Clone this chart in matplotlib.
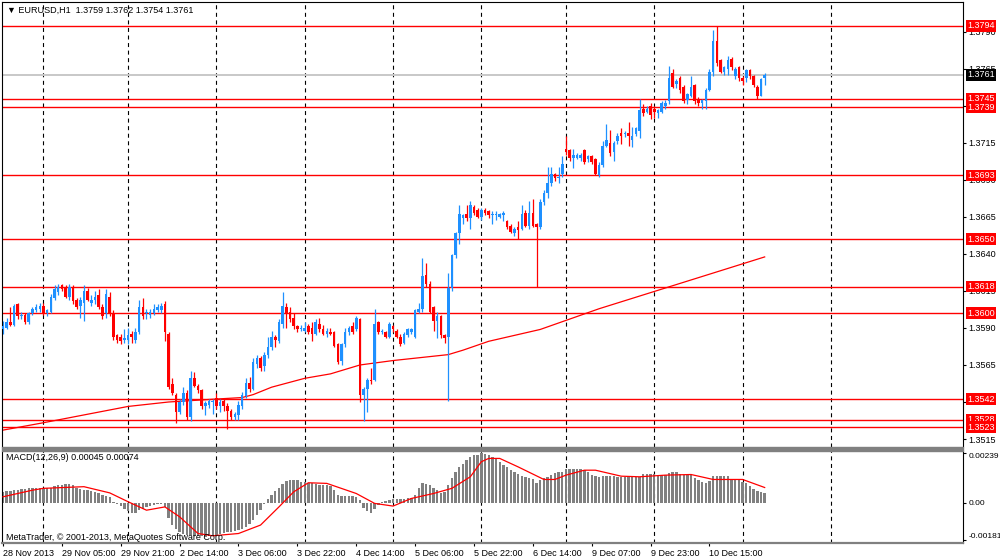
import matplotlib.pyplot as plt
import matplotlib.transforms as mtransforms
from matplotlib.patches import Rectangle
import numpy as np

plt.rcParams['font.family'] = ['Liberation Sans', 'DejaVu Sans']
plt.rcParams['font.size'] = 6.5

# EURUSD H1 candles, bar 0 = 28 Nov 2013 13:00
opens = [1.3589, 1.3590, 1.3594, 1.3592, 1.3606, 1.3598, 1.3599, 1.3594, 1.3600, 1.3602,
         1.3603, 1.3605, 1.3600, 1.3601, 1.3610, 1.3614, 1.3619, 1.3618, 1.3611, 1.3618,
         1.3609, 1.3605, 1.3607, 1.3615, 1.3607, 1.3609, 1.3612, 1.3604, 1.3600, 1.3611,
         1.3600, 1.3585, 1.3584, 1.3582, 1.3582, 1.3586, 1.3582, 1.3587, 1.3604, 1.3600,
         1.3599, 1.3600, 1.3602, 1.3602, 1.3606, 1.3586, 1.3552, 1.3545, 1.3533, 1.3540,
         1.3546, 1.3530, 1.3556, 1.3551, 1.3548, 1.3537, 1.3538, 1.3540, 1.3543, 1.3537,
         1.3541, 1.3537, 1.3534, 1.3530, 1.3531, 1.3537, 1.3544, 1.3553, 1.3549, 1.3566,
         1.3570, 1.3564, 1.3572, 1.3577, 1.3584, 1.3581, 1.3593, 1.3604, 1.3601, 1.3597,
         1.3591, 1.3589, 1.3588, 1.3591, 1.3590, 1.3586, 1.3593, 1.3589, 1.3586, 1.3587,
         1.3587, 1.3579, 1.3568, 1.3579, 1.3587, 1.3591, 1.3589, 1.3596, 1.3545, 1.3549,
         1.3555, 1.3555, 1.3594, 1.3587, 1.3587, 1.3584, 1.3591, 1.3588, 1.3584, 1.3580,
         1.3585, 1.3587, 1.3584, 1.3601, 1.3603, 1.3626, 1.3620, 1.3604, 1.3595, 1.3598,
         1.3585, 1.3584, 1.3617, 1.3639, 1.3654, 1.3664, 1.3667, 1.3664, 1.3672, 1.3670,
         1.3665, 1.3670, 1.3669, 1.3666, 1.3666, 1.3665, 1.3666, 1.3662, 1.3659, 1.3654,
         1.3658, 1.3657, 1.3668, 1.3659, 1.3668, 1.3660, 1.3658, 1.3675, 1.3681, 1.3688,
         1.3694, 1.3691, 1.3694, 1.3711, 1.3710, 1.3705, 1.3705, 1.3705, 1.3710, 1.3704,
         1.3706, 1.3704, 1.3693, 1.3700, 1.3713, 1.3715, 1.3709, 1.3716, 1.3722, 1.3721,
         1.3722, 1.3717, 1.3721, 1.3723, 1.3738, 1.3736, 1.3740, 1.3738, 1.3735, 1.3736,
         1.3740, 1.3743, 1.3762, 1.3755, 1.3759, 1.3753, 1.3744, 1.3747, 1.3754, 1.3745,
         1.3742, 1.3743, 1.3751, 1.3763, 1.3784, 1.3771, 1.3763, 1.3765, 1.3772, 1.3760,
         1.3766, 1.3759, 1.3759, 1.3764, 1.3760, 1.3753, 1.3747, 1.3759]
highs = [1.3595, 1.3597, 1.3604, 1.3606, 1.3607, 1.3601, 1.3600, 1.3601, 1.3604, 1.3606,
         1.3607, 1.3607, 1.3603, 1.3613, 1.3619, 1.3620, 1.3620, 1.3619, 1.3620, 1.3619,
         1.3610, 1.3611, 1.3619, 1.3617, 1.3612, 1.3615, 1.3616, 1.3606, 1.3616, 1.3614,
         1.3602, 1.3586, 1.3586, 1.3589, 1.3590, 1.3588, 1.3590, 1.3609, 1.3610, 1.3603,
         1.3603, 1.3606, 1.3606, 1.3607, 1.3608, 1.3587, 1.3556, 1.3546, 1.3542, 1.3550,
         1.3548, 1.3561, 1.3560, 1.3552, 1.3549, 1.3541, 1.3542, 1.3542, 1.3546, 1.3542,
         1.3543, 1.3539, 1.3535, 1.3533, 1.3541, 1.3547, 1.3556, 1.3557, 1.3570, 1.3572,
         1.3571, 1.3574, 1.3584, 1.3588, 1.3585, 1.3596, 1.3614, 1.3607, 1.3604, 1.3600,
         1.3592, 1.3592, 1.3594, 1.3593, 1.3594, 1.3596, 1.3597, 1.3592, 1.3590, 1.3590,
         1.3588, 1.3580, 1.3580, 1.3590, 1.3591, 1.3594, 1.3598, 1.3597, 1.3550, 1.3556,
         1.3563, 1.3603, 1.3595, 1.3589, 1.3588, 1.3594, 1.3592, 1.3589, 1.3586, 1.3587,
         1.3590, 1.3590, 1.3603, 1.3607, 1.3637, 1.3634, 1.3622, 1.3605, 1.3601, 1.3599,
         1.3586, 1.3627, 1.3640, 1.3655, 1.3673, 1.3667, 1.3673, 1.3676, 1.3673, 1.3671,
         1.3671, 1.3671, 1.3670, 1.3669, 1.3669, 1.3668, 1.3669, 1.3663, 1.3660, 1.3658,
         1.3662, 1.3673, 1.3670, 1.3676, 1.3677, 1.3661, 1.3677, 1.3683, 1.3699, 1.3699,
         1.3695, 1.3699, 1.3706, 1.3720, 1.3711, 1.3711, 1.3708, 1.3708, 1.3711, 1.3707,
         1.3707, 1.3705, 1.3702, 1.3716, 1.3728, 1.3724, 1.3716, 1.3722, 1.3725, 1.3723,
         1.3729, 1.3726, 1.3726, 1.3745, 1.3741, 1.3740, 1.3742, 1.3740, 1.3738, 1.3743,
         1.3744, 1.3767, 1.3765, 1.3758, 1.3760, 1.3754, 1.3749, 1.3760, 1.3755, 1.3746,
         1.3745, 1.3752, 1.3765, 1.3791, 1.3794, 1.3772, 1.3767, 1.3774, 1.3773, 1.3766,
         1.3767, 1.3760, 1.3765, 1.3765, 1.3761, 1.3754, 1.3759, 1.3762]
lows = [1.3586, 1.3589, 1.3591, 1.3591, 1.3596, 1.3596, 1.3593, 1.3593, 1.3599, 1.3601,
        1.3601, 1.3599, 1.3598, 1.3600, 1.3609, 1.3612, 1.3615, 1.3610, 1.3609, 1.3606,
        1.3603, 1.3597, 1.3595, 1.3608, 1.3605, 1.3606, 1.3603, 1.3596, 1.3597, 1.3598,
        1.3582, 1.3580, 1.3579, 1.3580, 1.3579, 1.3580, 1.3580, 1.3586, 1.3596, 1.3596,
        1.3597, 1.3599, 1.3601, 1.3600, 1.3581, 1.3549, 1.3545, 1.3526, 1.3532, 1.3538,
        1.3528, 1.3527, 1.3550, 1.3546, 1.3535, 1.3531, 1.3536, 1.3532, 1.3535, 1.3533,
        1.3534, 1.3522, 1.3528, 1.3528, 1.3528, 1.3535, 1.3543, 1.3547, 1.3548, 1.3563,
        1.3561, 1.3561, 1.3570, 1.3575, 1.3577, 1.3580, 1.3590, 1.3590, 1.3594, 1.3589,
        1.3587, 1.3588, 1.3587, 1.3586, 1.3581, 1.3585, 1.3587, 1.3585, 1.3584, 1.3585,
        1.3577, 1.3566, 1.3565, 1.3577, 1.3585, 1.3586, 1.3588, 1.3540, 1.3527, 1.3533,
        1.3552, 1.3554, 1.3586, 1.3586, 1.3583, 1.3583, 1.3587, 1.3583, 1.3578, 1.3579,
        1.3584, 1.3586, 1.3583, 1.3600, 1.3601, 1.3618, 1.3600, 1.3588, 1.3583, 1.3583,
        1.3580, 1.3541, 1.3615, 1.3637, 1.3647, 1.3660, 1.3662, 1.3657, 1.3666, 1.3664,
        1.3663, 1.3666, 1.3664, 1.3660, 1.3663, 1.3664, 1.3662, 1.3657, 1.3654, 1.3652,
        1.3650, 1.3656, 1.3658, 1.3657, 1.3658, 1.3618, 1.3657, 1.3673, 1.3678, 1.3686,
        1.3689, 1.3688, 1.3692, 1.3707, 1.3703, 1.3698, 1.3704, 1.3703, 1.3701, 1.3702,
        1.3701, 1.3693, 1.3692, 1.3699, 1.3712, 1.3706, 1.3703, 1.3714, 1.3714, 1.3719,
        1.3713, 1.3712, 1.3720, 1.3718, 1.3733, 1.3735, 1.3731, 1.3732, 1.3732, 1.3735,
        1.3738, 1.3741, 1.3752, 1.3752, 1.3749, 1.3742, 1.3741, 1.3746, 1.3741, 1.3740,
        1.3738, 1.3738, 1.3750, 1.3760, 1.3767, 1.3762, 1.3761, 1.3761, 1.3764, 1.3758,
        1.3757, 1.3754, 1.3756, 1.3758, 1.3753, 1.3745, 1.3747, 1.3754]
closes = [1.3591, 1.3594, 1.3592, 1.3605, 1.3598, 1.3599, 1.3594, 1.3600, 1.3603, 1.3604,
          1.3605, 1.3600, 1.3602, 1.3611, 1.3616, 1.3618, 1.3616, 1.3611, 1.3618, 1.3608,
          1.3604, 1.3609, 1.3615, 1.3609, 1.3609, 1.3611, 1.3604, 1.3598, 1.3613, 1.3600,
          1.3584, 1.3582, 1.3581, 1.3583, 1.3585, 1.3584, 1.3587, 1.3604, 1.3598, 1.3601,
          1.3601, 1.3603, 1.3604, 1.3605, 1.3587, 1.3550, 1.3546, 1.3533, 1.3540, 1.3546,
          1.3530, 1.3556, 1.3551, 1.3548, 1.3537, 1.3539, 1.3541, 1.3541, 1.3537, 1.3540,
          1.3537, 1.3534, 1.3530, 1.3532, 1.3538, 1.3545, 1.3553, 1.3549, 1.3567, 1.3570,
          1.3563, 1.3572, 1.3577, 1.3584, 1.3582, 1.3594, 1.3605, 1.3600, 1.3596, 1.3591,
          1.3589, 1.3590, 1.3590, 1.3587, 1.3586, 1.3594, 1.3589, 1.3586, 1.3588, 1.3586,
          1.3578, 1.3567, 1.3579, 1.3587, 1.3590, 1.3587, 1.3597, 1.3545, 1.3549, 1.3555,
          1.3554, 1.3593, 1.3587, 1.3588, 1.3584, 1.3593, 1.3589, 1.3584, 1.3579, 1.3586,
          1.3589, 1.3589, 1.3602, 1.3603, 1.3625, 1.3620, 1.3601, 1.3595, 1.3598, 1.3585,
          1.3583, 1.3617, 1.3639, 1.3654, 1.3667, 1.3666, 1.3664, 1.3673, 1.3668, 1.3665,
          1.3670, 1.3668, 1.3666, 1.3667, 1.3667, 1.3667, 1.3668, 1.3658, 1.3655, 1.3657,
          1.3656, 1.3667, 1.3659, 1.3668, 1.3659, 1.3658, 1.3675, 1.3681, 1.3688, 1.3694,
          1.3691, 1.3692, 1.3701, 1.3709, 1.3705, 1.3707, 1.3707, 1.3707, 1.3702, 1.3706,
          1.3702, 1.3694, 1.3700, 1.3713, 1.3717, 1.3708, 1.3715, 1.3720, 1.3720, 1.3722,
          1.3720, 1.3720, 1.3725, 1.3737, 1.3735, 1.3738, 1.3734, 1.3736, 1.3737, 1.3742,
          1.3742, 1.3759, 1.3753, 1.3757, 1.3751, 1.3743, 1.3748, 1.3753, 1.3743, 1.3742,
          1.3744, 1.3751, 1.3763, 1.3784, 1.3769, 1.3763, 1.3766, 1.3771, 1.3766, 1.3765,
          1.3759, 1.3757, 1.3764, 1.3760, 1.3754, 1.3747, 1.3758, 1.3761]

# 200 MA (read at a few bars)
ma_bars = [0, 11, 34, 45, 58, 65, 68, 73, 82, 89, 97, 106, 121, 125, 132, 146, 162, 189, 207]
ma_vals = [1.3521, 1.3526, 1.3537, 1.3540, 1.3542, 1.3543, 1.3545, 1.3550, 1.3556, 1.3559,
           1.3565, 1.3568, 1.3572, 1.3575, 1.3581, 1.3589, 1.3603, 1.3624, 1.3638]

# horizontal levels and current bid
levels = [1.3794, 1.3745, 1.3739, 1.3693, 1.3650, 1.3618, 1.3600, 1.3542, 1.3528, 1.3523]
bid = 1.3761
price_ticks = [1.3515, 1.3540, 1.3565, 1.3590, 1.3615, 1.3640, 1.3665, 1.3690, 1.3715,
               1.3740, 1.3765, 1.3790]

# MACD(12,26,9)
macd_hist = [0.00053, 0.00055, 0.00058, 0.00061, 0.00063, 0.00066, 0.00068, 0.00070, 0.00070, 0.00071,
             0.00072, 0.00073, 0.00072, 0.00074, 0.00080, 0.00085, 0.00088, 0.00090, 0.00089, 0.00085,
             0.00072, 0.00068, 0.00063, 0.00060, 0.00055, 0.00050, 0.00045, 0.00040, 0.00033, 0.00029,
             0.00005, -0.00005, -0.00018, -0.00030, -0.00042, -0.00050, -0.00048, -0.00035, -0.00028, -0.00022,
             -0.00018, -0.00012, -0.00008, -0.00006, -0.00020, -0.00075, -0.00110, -0.00128, -0.00142, -0.00150,
             -0.00155, -0.00157, -0.00160, -0.00162, -0.00163, -0.00165, -0.00163, -0.00160, -0.00155, -0.00150,
             -0.00145, -0.00143, -0.00140, -0.00135, -0.00132, -0.00128, -0.00118, -0.00102, -0.00085, -0.00060,
             -0.00036, -0.00005, 0.00020, 0.00038, 0.00055, 0.00072, 0.00090, 0.00105, 0.00110, 0.00112,
             0.00108, 0.00103, 0.00100, 0.00098, 0.00095, 0.00090, 0.00088, 0.00086, 0.00085, 0.00080,
             0.00060, 0.00040, 0.00035, 0.00033, 0.00033, 0.00035, 0.00030, 0.00013, -0.00027, -0.00040,
             -0.00048, -0.00030, -0.00012, 0.00002, 0.00010, 0.00015, 0.00018, 0.00020, 0.00020, 0.00020,
             0.00021, 0.00025, 0.00040, 0.00070, 0.00094, 0.00092, 0.00085, 0.00072, 0.00060, 0.00045,
             0.00050, 0.00085, 0.00120, 0.00150, 0.00172, 0.00190, 0.00208, 0.00223, 0.00230, 0.00234,
             0.00239, 0.00236, 0.00231, 0.00224, 0.00215, 0.00199, 0.00185, 0.00172, 0.00160, 0.00150,
             0.00138, 0.00132, 0.00127, 0.00122, 0.00113, 0.00097, 0.00110, 0.00118, 0.00127, 0.00134,
             0.00145, 0.00148, 0.00150, 0.00166, 0.00166, 0.00166, 0.00166, 0.00165, 0.00158, 0.00150,
             0.00134, 0.00130, 0.00126, 0.00128, 0.00129, 0.00129, 0.00128, 0.00126, 0.00126, 0.00126,
             0.00126, 0.00126, 0.00126, 0.00126, 0.00139, 0.00139, 0.00139, 0.00139, 0.00134, 0.00134,
             0.00134, 0.00142, 0.00147, 0.00147, 0.00140, 0.00134, 0.00134, 0.00134, 0.00122, 0.00110,
             0.00100, 0.00097, 0.00105, 0.00129, 0.00129, 0.00129, 0.00129, 0.00129, 0.00110, 0.00110,
             0.00110, 0.00100, 0.00094, 0.00080, 0.00065, 0.00055, 0.00050, 0.00045]
sig_bars = [0, 8, 11, 22, 29, 34, 39, 44, 48, 53, 57, 64, 70, 75, 79, 83, 88, 96, 101, 106,
            111, 117, 122, 127, 130, 132, 135, 140, 147, 150, 153, 158, 161, 168, 173, 180, 187,
            193, 201, 207]
sig_vals = [0.00029, 0.00061, 0.00070, 0.00078, 0.00048, 0.00005, -0.00036, -0.00020, -0.00068, -0.00149,
            -0.00160, -0.00149, -0.00108, -0.00020, 0.00053, 0.00097, 0.00094, 0.00045, -0.00003, -0.00016,
            0.00021, 0.00045, 0.00070, 0.00126, 0.00199, 0.00215, 0.00215, 0.00174, 0.00113, 0.00113,
            0.00134, 0.00158, 0.00158, 0.00129, 0.00126, 0.00134, 0.00137, 0.00113, 0.00113, 0.00074]
macd_ticks = [0.00239, 0.0, -0.00181]
macd_tick_labels = ['0.00239', '0.00', '-0.00181']

# day separators and time scale
day_starts = [11, 34, 58, 82, 106, 130, 153, 177, 201, 225]
time_bars = [0, 16, 32, 48, 64, 80, 96, 112, 128, 144, 160, 176, 192]
time_labels = ['28 Nov 2013', '29 Nov 05:00', '29 Nov 21:00', '2 Dec 14:00', '3 Dec 06:00',
               '3 Dec 22:00', '4 Dec 14:00', '5 Dec 06:00', '5 Dec 22:00', '6 Dec 14:00',
               '9 Dec 07:00', '9 Dec 23:00', '10 Dec 15:00']

W, H = 1000, 560
BLUE = '#1e90ff'
RED = '#ff0000'


def px_rect(l, t, r, b):
    return [l / W, 1 - b / H, (r - l) / W, (b - t) / H]


fig = plt.figure(figsize=(10, 5.6), dpi=100)
ax = fig.add_axes(px_rect(2, 2, 963, 447))
ax2 = fig.add_axes(px_rect(2, 451, 963, 543))

o = np.array(opens)
h = np.array(highs)
lo = np.array(lows)
c = np.array(closes)
x = np.arange(len(c))
cols = np.where(c >= o, BLUE, RED)

# grid (day starts)
for a in (ax, ax2):
    for d in day_starts:
        a.axvline(d, color='black', lw=0.8, ls=(0, (3.6, 3.2)), zorder=0.5)

ax.axhline(bid, color='#c8c8c8', lw=1.4, zorder=0.8)
for lv in levels:
    ax.axhline(lv, color=RED, lw=1.0, zorder=1)

ax.plot(ma_bars, ma_vals, color=RED, lw=0.9, zorder=1.5)

ax.vlines(x, lo, h, colors=cols, lw=0.9, zorder=2)
ax.bar(x, np.maximum(np.abs(c - o), 0.00006), bottom=np.minimum(o, c), width=0.7,
       color=cols, linewidth=0, zorder=3)

ax.set_xlim(-0.27, 260.9)
ax.set_ylim(1.35096, 1.38102)
ax.set_xticks([])
ax.yaxis.tick_right()
ax.set_yticks(price_ticks)
ax.set_yticklabels([f'{v:.4f}' for v in price_ticks])
ax.tick_params(axis='y', length=2.5, width=0.8, pad=1.5, labelsize=6.5)
ax.spines['bottom'].set_visible(False)
for s in ('top', 'left', 'right'):
    ax.spines[s].set_linewidth(0.8)

# level labels on the price scale
tr = mtransforms.blended_transform_factory(ax.transAxes, ax.transData)
for lv in levels:
    ax.text(1.0042, lv, f'{lv:.4f}', transform=tr, color='white', va='center', ha='left',
            fontsize=6.5, clip_on=False, zorder=6,
            bbox=dict(boxstyle='square,pad=0.15', fc=RED, ec='none'))
ax.text(1.0042, bid, f'{bid:.4f}', transform=tr, color='white', va='center', ha='left',
        fontsize=6.5, clip_on=False, zorder=7,
        bbox=dict(boxstyle='square,pad=0.15', fc='black', ec='none'))

# MACD window
ax2.bar(np.arange(len(macd_hist)), macd_hist, width=0.65, color='#808080', linewidth=0, zorder=2)
ax2.plot(sig_bars, sig_vals, color=RED, lw=0.9, zorder=3)
ax2.set_xlim(-0.27, 260.9)
ax2.set_ylim(-0.00195, 0.00251)
ax2.yaxis.tick_right()
ax2.set_yticks(macd_ticks)
ax2.set_yticklabels(macd_tick_labels)
ylabs = ax2.get_yticklabels()
ylabs[0].set_va('top')
ylabs[2].set_va('bottom')
ax2.tick_params(axis='y', length=2.5, width=0.8, pad=1.2, labelsize=6.0)
ax2.set_xticks(time_bars)
ax2.set_xticklabels(time_labels, ha='left')
ax2.tick_params(axis='x', length=2.5, width=0.8, pad=1.5, labelsize=6.5)
ax2.spines['top'].set_visible(False)
ax2.spines['bottom'].set_color('#808080')
ax2.spines['bottom'].set_linewidth(1.6)
ax2.spines['left'].set_linewidth(0.8)
ax2.spines['right'].set_linewidth(0.8)

# separator between the windows
fig.patches.append(Rectangle((2 / W, 1 - 451 / H), 961 / W, 4 / H,
                             transform=fig.transFigure, color='#808080', zorder=5))

fig.text(7 / W, 1 - 10 / H, '\u25bc EURUSD,H1  1.3759 1.3762 1.3754 1.3761', va='center',
         ha='left', fontsize=6.5)
fig.text(6 / W, 1 - 458 / H, 'MACD(12,26,9) 0.00045 0.00074', va='center', ha='left',
         fontsize=6.5)
fig.text(6 / W, 1 - 537 / H, 'MetaTrader, \u00a9 2001-2013, MetaQuotes Software Corp.',
         va='center', ha='left', fontsize=6.5)

fig.savefig('out.png', dpi=100)
